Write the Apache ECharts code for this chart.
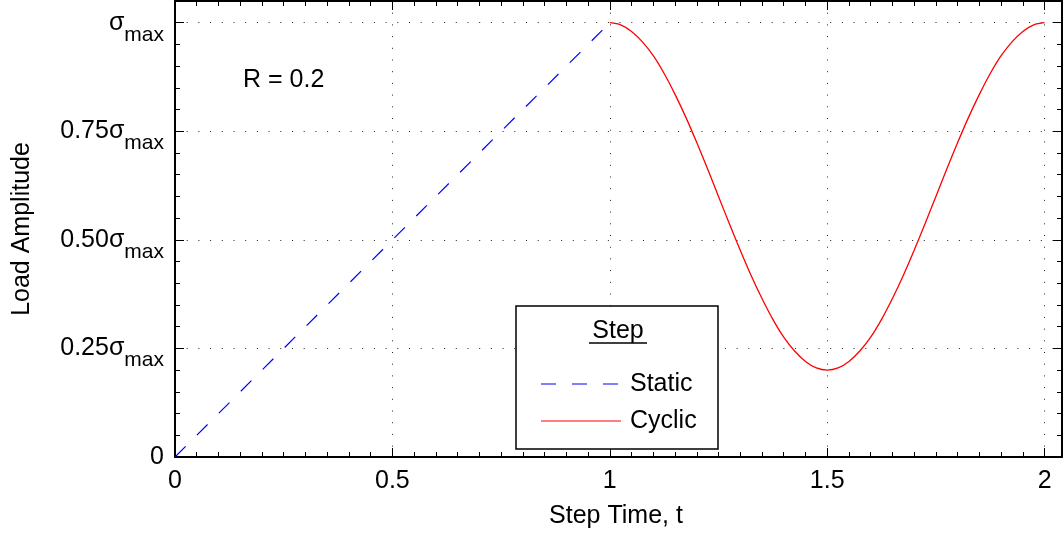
<!DOCTYPE html>
<html>
<head>
<meta charset="utf-8">
<script src="https://cdn.jsdelivr.net/npm/echarts@6/dist/echarts.min.js"></script>
<style>html,body{margin:0;padding:0;background:#fff}#c{width:1063px;height:535px}</style>
</head>
<body>
<div id="c"></div>
<script>
// Data
const staticT = [0, 1];
const staticLoad = [0, 1];
const cyclicT = [1.000,1.025,1.050,1.075,1.100,1.125,1.150,1.175,1.200,1.225,1.250,1.275,1.300,1.325,1.350,1.375,1.400,1.425,1.450,1.475,1.500,
                 1.525,1.550,1.575,1.600,1.625,1.650,1.675,1.700,1.725,1.750,1.775,1.800,1.825,1.850,1.875,1.900,1.925,1.950,1.975,2.000];
const cyclicLoad = [1.000,0.995,0.980,0.956,0.924,0.883,0.835,0.782,0.724,0.663,0.600,0.537,0.476,0.418,0.365,0.317,0.276,0.244,0.220,0.205,0.200,
                    0.205,0.220,0.244,0.276,0.317,0.365,0.418,0.476,0.537,0.600,0.663,0.724,0.782,0.835,0.883,0.924,0.956,0.980,0.995,1.000];
const xTicks = [0, 0.5, 1, 1.5, 2];
const xTickLabels = ['0', '0.5', '1', '1.5', '2'];
const yTicks = [0, 0.25, 0.5, 0.75, 1];
const yTickLabels = ['0', '0.25σ', '0.50σ', '0.75σ', 'σ'];
const seriesNames = ['Static', 'Cyclic'];

const FONT = 'Liberation Sans, Arial, sans-serif';
const FS = 25;
const chart = echarts.init(document.getElementById('c'));

function near(v, arr) { return arr.findIndex(a => Math.abs(a - v) < 1e-6); }

const axisCommon = {
  type: 'value',
  axisLine: { show: true, onZero: false, lineStyle: { color: '#000', width: 2 } },
  axisTick: { show: true, inside: true, length: 9, lineStyle: { color: '#000', width: 1 } },
  minorTick: { show: true, length: 5, lineStyle: { color: '#000', width: 1 } },
  splitLine: { show: false },
  minorSplitLine: { show: false }
};

chart.setOption({
  animation: false,
  grid: { left: 175, right: 1, top: 1, bottom: 78, containLabel: false },
  xAxis: [
    Object.assign({}, axisCommon, {
      position: 'bottom', min: 0, max: 2.04, interval: 0.5,
      minorTick: Object.assign({}, axisCommon.minorTick, { splitNumber: 10 }),
      axisLabel: {
        show: true, margin: 12, color: '#000', fontSize: FS, fontFamily: FONT,
        showMaxLabel: false,
        formatter: v => { const i = near(v, xTicks); return i >= 0 ? xTickLabels[i] : ''; }
      },
      splitLine: { show: true, lineStyle: { color: '#222', width: 1, type: [1, 10.7] } }
    }),
    Object.assign({}, axisCommon, {
      position: 'top', min: 0, max: 2.04, interval: 0.5,
      minorTick: Object.assign({}, axisCommon.minorTick, { splitNumber: 10 }),
      axisLabel: { show: false }
    })
  ],
  yAxis: [
    Object.assign({}, axisCommon, {
      position: 'left', min: 0, max: 1.05, interval: 0.25,
      minorTick: Object.assign({}, axisCommon.minorTick, { splitNumber: 5 }),
      axisLabel: {
        show: true, margin: 11, color: '#000', fontFamily: FONT, fontSize: FS,
        showMaxLabel: false,
        formatter: v => {
          const i = near(v, yTicks);
          if (i < 0) return '';
          if (i === 0) return '{n|' + yTickLabels[i] + '}';
          return '{n|' + yTickLabels[i] + '}{s|max}';
        },
        rich: {
          n: { fontSize: FS, fontFamily: FONT, color: '#000', lineHeight: 24, verticalAlign: 'middle' },
          s: { fontSize: 21, fontFamily: FONT, color: '#000', lineHeight: 20, padding: [24, 0, 0, 0], verticalAlign: 'middle' }
        }
      },
      splitLine: { show: true, lineStyle: { color: '#222', width: 1, type: [1, 10.7] } }
    }),
    Object.assign({}, axisCommon, {
      position: 'right', min: 0, max: 1.05, interval: 0.25,
      minorTick: Object.assign({}, axisCommon.minorTick, { splitNumber: 5 }),
      axisLabel: { show: false }
    })
  ],
  series: [
    {
      name: seriesNames[0], type: 'line', xAxisIndex: 0, yAxisIndex: 0,
      data: staticT.map((t, i) => [t, staticLoad[i]]),
      showSymbol: false, symbol: 'none',
      lineStyle: { color: '#0000ff', width: 1.2, type: [15, 16] }
    },
    {
      name: seriesNames[1], type: 'line', xAxisIndex: 0, yAxisIndex: 0,
      data: cyclicT.map((t, i) => [t, cyclicLoad[i]]),
      showSymbol: false, symbol: 'none', smooth: 0.3,
      lineStyle: { color: '#ff0000', width: 1.3 }
    }
  ],
  graphic: [
    { type: 'text', x: 243, y: 80, style: { text: 'R = 0.2', font: FS + 'px ' + FONT, fill: '#000', align: 'left', verticalAlign: 'middle' } },
    { type: 'text', x: 616, y: 516, style: { text: 'Step Time, t', font: FS + 'px ' + FONT, fill: '#000', align: 'center', verticalAlign: 'middle' } },
    { type: 'text', x: 22, y: 229, rotation: Math.PI / 2, style: { text: 'Load Amplitude', font: FS + 'px ' + FONT, fill: '#000', align: 'center', verticalAlign: 'middle' } },
    { type: 'rect', shape: { x: 516, y: 306, width: 202, height: 143 }, style: { fill: '#fff', stroke: '#000', lineWidth: 1.5 }, z: 10 },
    { type: 'text', x: 618, y: 331, z: 11, style: { text: 'Step', font: FS + 'px ' + FONT, fill: '#000', align: 'center', verticalAlign: 'middle' } },
    { type: 'line', z: 11, shape: { x1: 589, y1: 343, x2: 647, y2: 343 }, style: { stroke: '#000', lineWidth: 1.5 } },
    { type: 'line', z: 11, shape: { x1: 541, y1: 384, x2: 621, y2: 384 }, style: { stroke: '#0000ff', lineWidth: 1.2, lineDash: [15, 16] } },
    { type: 'text', x: 630, y: 384, z: 11, style: { text: seriesNames[0], font: FS + 'px ' + FONT, fill: '#000', align: 'left', verticalAlign: 'middle' } },
    { type: 'line', z: 11, shape: { x1: 541, y1: 421, x2: 621, y2: 421 }, style: { stroke: '#ff0000', lineWidth: 1.2 } },
    { type: 'text', x: 630, y: 421, z: 11, style: { text: seriesNames[1], font: FS + 'px ' + FONT, fill: '#000', align: 'left', verticalAlign: 'middle' } }
  ]
});
</script>
</body>
</html>
